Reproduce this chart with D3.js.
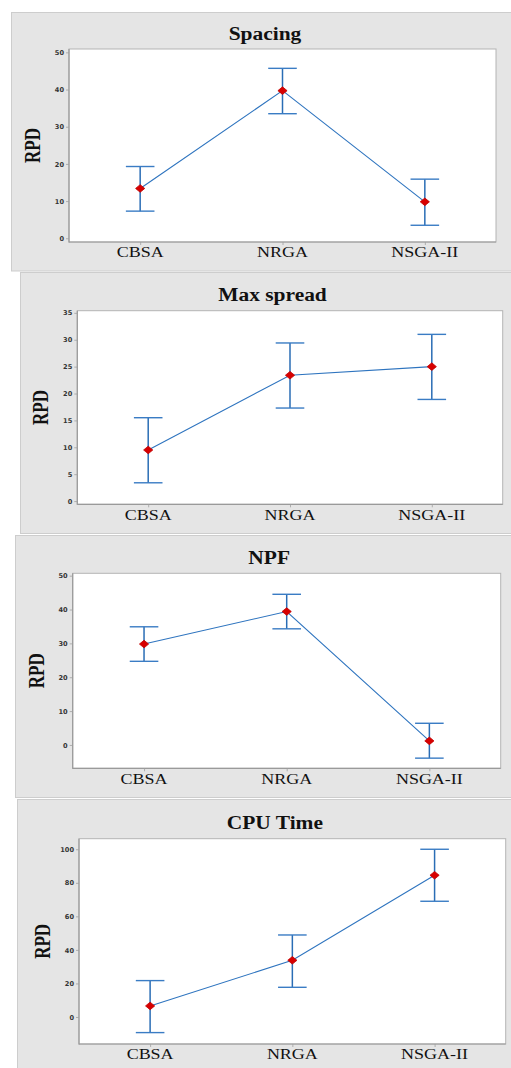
<!DOCTYPE html>
<html>
<head>
<meta charset="utf-8">
<script src="https://cdn.jsdelivr.net/npm/d3@7"></script>
<style>
  html, body { margin: 0; padding: 0; background: #ffffff; }
  svg { display: block; }
</style>
</head>
<body>
<svg id="chart" width="511" height="1068"></svg>
<script>
// ---------- DATA ----------
const categories = ["CBSA", "NRGA", "NSGA-II"];
const panelTitles = ["Spacing", "Max spread", "NPF", "CPU Time"];
const yLabel = "RPD";

const spacingMean  = [13.4, 39.7, 9.8];
const spacingLower = [7.3, 33.5, 3.5];
const spacingUpper = [19.3, 45.7, 15.9];

const maxSpreadMean  = [9.5, 23.4, 25.0];
const maxSpreadLower = [3.4, 17.3, 18.9];
const maxSpreadUpper = [15.5, 29.4, 31.0];

const npfMean  = [29.8, 39.4, 1.2];
const npfLower = [24.7, 34.3, -3.9];
const npfUpper = [34.9, 44.5, 6.4];

const cpuMean  = [6.6, 33.8, 84.5];
const cpuLower = [-9.3, 17.7, 69.0];
const cpuUpper = [21.7, 48.9, 100.0];

const spacingTicks   = [0, 10, 20, 30, 40, 50];
const maxSpreadTicks = [0, 5, 10, 15, 20, 25, 30, 35];
const npfTicks       = [0, 10, 20, 30, 40, 50];
const cpuTicks       = [0, 20, 40, 60, 80, 100];

const spacingDomain   = [-1.0, 50.9];
const maxSpreadDomain = [-0.6, 35.4];
const npfDomain       = [-6.9, 50.7];
const cpuDomain       = [-16.1, 106.3];

// ---------- LAYOUT (positions / styles) ----------
const layout = [
  { bg: [11, 12, 511, 271.5],  plot: [69, 49, 496, 242] },
  { bg: [20, 272, 511, 534],   plot: [77.3, 310.7, 502.7, 504.3] },
  { bg: [15, 535, 511, 798],   plot: [72.7, 573.3, 500.7, 768.3] },
  { bg: [17, 799, 511, 1069],  plot: [79, 838.7, 505.7, 1044] }
];

const panels = [
  { mean: spacingMean, lower: spacingLower, upper: spacingUpper, ticks: spacingTicks, domain: spacingDomain },
  { mean: maxSpreadMean, lower: maxSpreadLower, upper: maxSpreadUpper, ticks: maxSpreadTicks, domain: maxSpreadDomain },
  { mean: npfMean, lower: npfLower, upper: npfUpper, ticks: npfTicks, domain: npfDomain },
  { mean: cpuMean, lower: cpuLower, upper: cpuUpper, ticks: cpuTicks, domain: cpuDomain }
];

const svg = d3.select("#chart");

panels.forEach((p, i) => {
  const L = layout[i];
  const [bx0, by0, bx1, by1] = L.bg;
  const [px0, py0, px1, py1] = L.plot;
  const g = svg.append("g");

  // panel background
  g.append("rect")
    .attr("x", bx0 + 0.5).attr("y", by0 + 0.5)
    .attr("width", bx1 - bx0).attr("height", by1 - by0 - 1)
    .attr("fill", "#e5e5e5").attr("stroke", "#cdcdcd").attr("stroke-width", 1);

  // plot area
  g.append("rect")
    .attr("x", px0).attr("y", py0)
    .attr("width", px1 - px0).attr("height", py1 - py0)
    .attr("fill", "#ffffff").attr("stroke", "#b4b4b4").attr("stroke-width", 1);

  const x = d3.scalePoint().domain(categories).range([px0, px1]).padding(0.5);
  const y = d3.scaleLinear().domain(p.domain).range([py1, py0]);

  // left axis line (darker)
  g.append("line")
    .attr("x1", px0).attr("x2", px0).attr("y1", py0).attr("y2", py1 + 0.5)
    .attr("stroke", "#9a9a9a").attr("stroke-width", 1.2);
  g.append("line")
    .attr("x1", px0).attr("x2", px1).attr("y1", py1).attr("y2", py1)
    .attr("stroke", "#9a9a9a").attr("stroke-width", 1.2);

  // y axis
  const yAxis = d3.axisLeft(y).tickValues(p.ticks).tickSize(3).tickPadding(2).tickFormat(d3.format("d"));
  const ya = g.append("g").attr("transform", `translate(${px0},0)`).call(yAxis);
  ya.select(".domain").remove();
  ya.selectAll(".tick line").attr("stroke", "#a0a0a0").attr("stroke-width", 0.8);
  ya.selectAll(".tick text")
    .attr("fill", "#333333")
    .style("font-family", "'DejaVu Sans', sans-serif")
    .style("font-weight", "bold")
    .style("font-size", "6.6px");

  // x axis
  const xAxis = d3.axisBottom(x).tickSize(3).tickPadding(0).tickFormat("");
  const xa = g.append("g").attr("transform", `translate(0,${py1})`).call(xAxis);
  xa.select(".domain").remove();
  xa.selectAll(".tick line").attr("stroke", "#a0a0a0").attr("stroke-width", 0.8);
  categories.forEach(c => {
    g.append("text")
      .attr("transform", `translate(${x(c)},${py1 + 15.3}) scale(1.2,1)`)
      .attr("text-anchor", "middle")
      .style("font-family", "'Liberation Serif', 'Times New Roman', serif")
      .style("font-size", "15px")
      .attr("fill", "#111")
      .text(c);
  });

  // title
  g.append("text")
    .attr("transform", `translate(${(px0 + px1) / 2 - 17.5},${py0 - 9.3}) scale(1.1,1)`)
    .attr("text-anchor", "middle")
    .style("font-family", "'Liberation Serif', 'Times New Roman', serif")
    .style("font-weight", "bold")
    .style("font-size", "19.5px")
    .attr("fill", "#111")
    .text(panelTitles[i]);

  // y label
  g.append("text")
    .attr("transform", `translate(${px0 - 29},${(py0 + py1) / 2}) rotate(-90) scale(1,1.32)`)
    .attr("text-anchor", "middle")
    .style("font-family", "'Liberation Serif', 'Times New Roman', serif")
    .style("font-weight", "bold")
    .style("font-size", "17px")
    .attr("fill", "#111")
    .text(yLabel);

  const rows = categories.map((c, k) => ({ c, m: p.mean[k], lo: p.lower[k], hi: p.upper[k] }));

  // connecting line
  const line = d3.line().x(d => x(d.c)).y(d => y(d.m));
  g.append("path").datum(rows)
    .attr("d", line).attr("fill", "none")
    .attr("stroke", "#2e74bf").attr("stroke-width", 1.1);

  // error bars
  const capHalf = 14.3;
  const eb = g.append("g").attr("stroke", "#2a6db5").attr("fill", "none");
  eb.selectAll("line.v").data(rows).join("line").attr("class", "v")
    .attr("x1", d => x(d.c)).attr("x2", d => x(d.c))
    .attr("y1", d => y(d.lo)).attr("y2", d => y(d.hi))
    .attr("stroke-width", 1.5);
  eb.selectAll("line.t").data(rows).join("line").attr("class", "t")
    .attr("x1", d => x(d.c) - capHalf).attr("x2", d => x(d.c) + capHalf)
    .attr("y1", d => y(d.hi)).attr("y2", d => y(d.hi))
    .attr("stroke-width", 1.4).attr("stroke", "#3a7cc4");
  eb.selectAll("line.b").data(rows).join("line").attr("class", "b")
    .attr("x1", d => x(d.c) - capHalf).attr("x2", d => x(d.c) + capHalf)
    .attr("y1", d => y(d.lo)).attr("y2", d => y(d.lo))
    .attr("stroke-width", 1.4).attr("stroke", "#3a7cc4");

  // markers
  g.selectAll("path.mk").data(rows).join("path").attr("class", "mk")
    .attr("d", "M-4.6,0L0,-3.8L4.6,0L0,3.8Z")
    .attr("transform", d => `translate(${x(d.c)},${y(d.m)})`)
    .attr("fill", "#d80000").attr("stroke", "#c00000").attr("stroke-width", 0.8)
    .attr("stroke-linejoin", "round");
});
</script>
</body>
</html>
